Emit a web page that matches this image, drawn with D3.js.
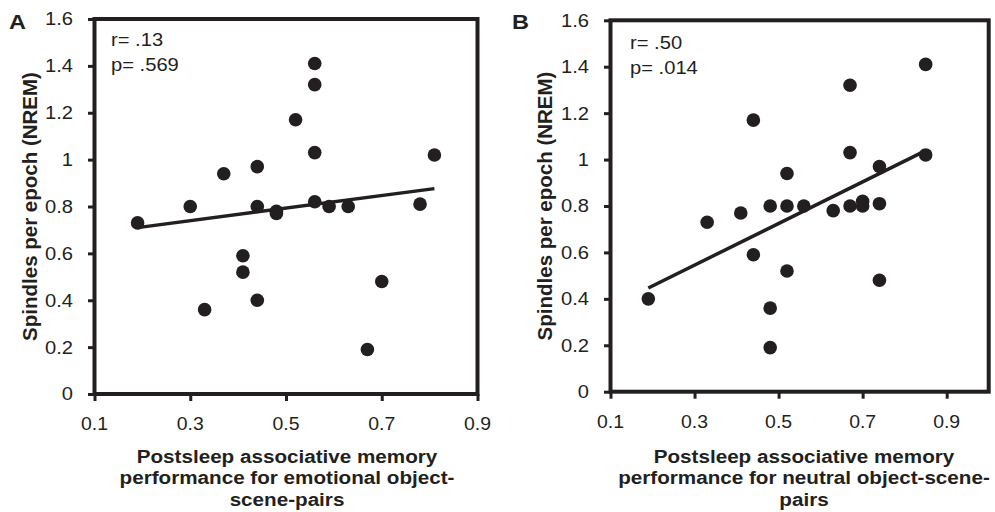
<!DOCTYPE html>
<html>
<head>
<meta charset="utf-8">
<script src="https://cdn.jsdelivr.net/npm/d3@7"></script>
<style>
  html, body { margin: 0; padding: 0; background: #fff; }
  svg { display: block; }
</style>
</head>
<body>
<svg id="chart" width="995" height="512"></svg>
<script>
// ---------------- DATA ----------------
// Panel A: emotional object-scene-pairs
const emotionalX = [0.19, 0.30, 0.33, 0.37, 0.41, 0.41, 0.44, 0.44, 0.44, 0.48, 0.48,
                    0.52, 0.56, 0.56, 0.56, 0.56, 0.59, 0.63, 0.67, 0.70, 0.78, 0.81];
const emotionalY = [0.73, 0.80, 0.36, 0.94, 0.59, 0.52, 0.97, 0.80, 0.40, 0.78, 0.77,
                    1.17, 1.41, 1.32, 1.03, 0.82, 0.80, 0.80, 0.19, 0.48, 0.81, 1.02];
// Panel B: neutral object-scene-pairs
const neutralX = [0.19, 0.33, 0.41, 0.44, 0.44, 0.48, 0.48, 0.48, 0.52, 0.52, 0.52, 0.56,
                  0.63, 0.67, 0.67, 0.67, 0.70, 0.70, 0.74, 0.74, 0.74, 0.85, 0.85];
const neutralY = [0.40, 0.73, 0.77, 1.17, 0.59, 0.80, 0.36, 0.19, 0.94, 0.80, 0.52, 0.80,
                  0.78, 1.32, 1.03, 0.80, 0.82, 0.80, 0.97, 0.81, 0.48, 1.41, 1.02];

const yTickValues = [0, 0.2, 0.4, 0.6, 0.8, 1.0, 1.2, 1.4, 1.6];
const yTickLabels = ["0", "0.2", "0.4", "0.6", "0.8", "1", "1.2", "1.4", "1.6"];
const xTickValues = [0.1, 0.3, 0.5, 0.7, 0.9];
const xTickLabels = ["0.1", "0.3", "0.5", "0.7", "0.9"];

const statsA = ["r= .13", "p= .569"];
const statsB = ["r= .50", "p= .014"];
const xTitleA = ["Postsleep associative memory", "performance for emotional object-", "scene-pairs"];
const xTitleB = ["Postsleep associative memory", "performance for neutral object-scene-", "pairs"];
const yTitle = "Spindles per epoch (NREM)";
const panelLetters = ["A", "B"];
const xDomainA = [0.1, 0.9];
const xDomainB = [0.1, 1.0];
const yDomain = [0, 1.6];

// ---------------- LAYOUT ----------------
const INK = "#231f20";
const FONT = "Arial, 'Liberation Sans', sans-serif";
const panels = [
  { letter: panelLetters[0], xs: emotionalX, ys: emotionalY, xDomain: xDomainA,
    left: 94.5, right: 477.5, top: 19, bottom: 394,
    stats: statsA, statsX: 111, statsY: 45.5, yTitleX: 37, xTitle: xTitleA, xTitleCX: 287, letterX: 9 },
  { letter: panelLetters[1], xs: neutralX, ys: neutralY, xDomain: xDomainB,
    left: 610.5, right: 988.7, top: 20.3, bottom: 391.7,
    stats: statsB, statsX: 630, statsY: 49, yTitleX: 552, xTitle: xTitleB, xTitleCX: 804, letterX: 512 }
];

const svg = d3.select("#chart");

function scaledText(g, x, y, str, opt) {
  return g.append("text")
    .attr("transform", `translate(${x},${y}) scale(${opt.sx || 1},1)`)
    .attr("font-family", FONT)
    .attr("font-size", opt.size)
    .attr("font-weight", opt.weight || "normal")
    .attr("text-anchor", opt.anchor || "start")
    .attr("fill", INK)
    .text(str);
}

function linreg(xs, ys) {
  const n = xs.length;
  const mx = d3.mean(xs), my = d3.mean(ys);
  let sxy = 0, sxx = 0;
  for (let i = 0; i < n; i++) { sxy += (xs[i] - mx) * (ys[i] - my); sxx += (xs[i] - mx) ** 2; }
  const b = sxy / sxx, a = my - b * mx;
  return x => a + b * x;
}

panels.forEach(p => {
  const g = svg.append("g");
  const x = d3.scaleLinear().domain(p.xDomain).range([p.left, p.right]);
  const y = d3.scaleLinear().domain(yDomain).range([p.bottom, p.top]);

  // y axis tick marks
  const yAx = g.append("g").attr("transform", `translate(${p.left},0)`)
    .call(d3.axisLeft(y).tickValues(yTickValues).tickSize(6.5).tickSizeOuter(0).tickFormat(""));
  yAx.select(".domain").remove();
  yAx.selectAll(".tick text").remove();
  yAx.selectAll(".tick line").attr("stroke", INK).attr("stroke-width", 3);
  // y tick labels
  yTickValues.forEach((v, i) =>
    scaledText(g, p.left - 21.5, y(v) + 6.4, yTickLabels[i], { size: 18, sx: 1.12, anchor: "end" }));

  // x axis tick marks
  const xAx = g.append("g").attr("transform", `translate(0,${p.bottom})`)
    .call(d3.axisBottom(x).tickValues(xTickValues).tickSize(7).tickSizeOuter(0).tickFormat(""));
  xAx.select(".domain").remove();
  xAx.selectAll(".tick text").remove();
  xAx.selectAll(".tick line").attr("stroke", INK).attr("stroke-width", 3);
  // x tick labels
  xTickValues.forEach((v, i) =>
    scaledText(g, x(v), p.bottom + 36, xTickLabels[i], { size: 18, sx: 1.08, anchor: "middle" }));

  // frame
  g.append("rect")
    .attr("x", p.left).attr("y", p.top)
    .attr("width", p.right - p.left).attr("height", p.bottom - p.top)
    .attr("fill", "none").attr("stroke", INK).attr("stroke-width", 4);

  // regression line (least squares over the plotted points)
  const f = linreg(p.xs, p.ys);
  const x0 = d3.min(p.xs), x1 = d3.max(p.xs);
  g.append("line")
    .attr("x1", x(x0)).attr("y1", y(f(x0)))
    .attr("x2", x(x1)).attr("y2", y(f(x1)))
    .attr("stroke", INK).attr("stroke-width", 3.5);

  // points
  g.selectAll("circle.pt").data(d3.range(p.xs.length)).join("circle")
    .attr("class", "pt")
    .attr("cx", i => x(p.xs[i])).attr("cy", i => y(p.ys[i]))
    .attr("r", 6.8).attr("fill", INK);

  // stats text
  p.stats.forEach((s, i) => scaledText(g, p.statsX, p.statsY + i * 25, s, { size: 18, sx: 1.12 }));

  // panel letter
  scaledText(g, p.letterX, 28.5, p.letter, { size: 21, weight: "bold", sx: 1.12 });

  // y title
  g.append("text")
    .attr("transform", `translate(${p.yTitleX},${(p.top + p.bottom) / 2}) rotate(-90)`)
    .attr("text-anchor", "middle")
    .attr("font-family", FONT)
    .attr("font-size", 20.5).attr("font-weight", "bold").attr("fill", INK)
    .text(yTitle);

  // x title (three lines)
  p.xTitle.forEach((line, i) =>
    scaledText(g, p.xTitleCX, 462.5 + i * 21.5, line, { size: 17.8, weight: "bold", sx: 1.16, anchor: "middle" }));
});
</script>
</body>
</html>
